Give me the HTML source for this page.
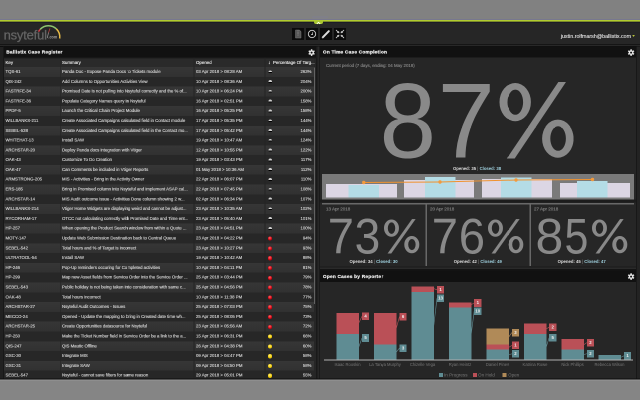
<!DOCTYPE html>
<html><head><meta charset="utf-8">
<style>
*{margin:0;padding:0;box-sizing:border-box}
html,body{width:640px;height:400px;overflow:hidden;background:#848484;font-family:"Liberation Sans",sans-serif}
.a{position:absolute}
#top{left:0;top:0;width:640px;height:19px;background:#818181}
#l1{left:0;top:19px;width:640px;height:1px;background:#77778f}
#l2{left:0;top:20px;width:640px;height:1px;background:#b0cc30}
#l3{left:0;top:21px;width:640px;height:1px;background:#7c8a2a}
#l4{left:0;top:22px;width:640px;height:1px;background:#1b1b27}
#hdr{left:0;top:23px;width:640px;height:21px;background:#262626}
#main{left:0;top:44px;width:640px;height:336px;background:#212121}
#tab{left:314px;top:21px;width:9px;height:3px;background:#a9c52f;border-radius:0 0 2px 2px}
.logo{left:3.6px;top:28.2px;font-size:13px;color:#646464;letter-spacing:-0.2px;line-height:14px;-webkit-text-stroke:0.25px #646464}
.btn{top:28px;width:12px;height:12px;background:#0b0b0b}
.email{right:9px;top:32.7px;font-size:5.3px;color:#e4e4e4;line-height:7px;-webkit-text-stroke:0.1px #e4e4e4}
.caret{left:632.3px;top:35.1px;width:0;height:0;border-left:1.2px solid transparent;border-right:1.2px solid transparent;border-top:1.8px solid #b8c238}
.panel{background:#262626}
.ph{background:#111;height:11px}
.pt{font-weight:bold;font-size:4.8px;letter-spacing:0.2px;color:#ececec;line-height:7px;white-space:nowrap;-webkit-text-stroke:0.22px #ececec}
.gear{width:7.2px;height:7.2px}
/* table */
#tbl{left:4px;top:57.5px;width:310px;height:322px;overflow:hidden}
.thr{left:4px;top:57.5px;width:310px;height:9.5px;background:#2a2a2a;font-size:4.4px;color:#ececec;white-space:nowrap;line-height:9.5px;-webkit-text-stroke:0.12px #ececec}
.rw{position:absolute;left:4px;width:310px;height:9.79px;font-size:4.3px;color:#d6d6d6;line-height:9px;-webkit-text-stroke:0.12px #d6d6d6;white-space:nowrap}
.odd{background:linear-gradient(#363636,#313131)}
.even{background:#272727}
.rw span,.thr span{position:absolute;top:0}
.c1{left:1.5px}
.c2{left:58px}
.c3{left:192px}
.c4{right:2.5px}
.colsep{top:57.5px;width:0.8px;height:321.5px;background:#232323}
.dot{position:absolute;left:264px;top:3.1px;width:4.1px;height:4.1px;border-radius:50%}
.dot.n{top:3.3px;width:3.4px;height:2.8px;left:264.6px;border-radius:1.75px 1.75px 0.6px 0.6px;background:linear-gradient(#d0d0d0 0 62%,#000 62% 100%)}
.dot.r{background:radial-gradient(circle at 45% 35%,#ff6a6a,#d00010 60%,#900);}
.dot.y{background:radial-gradient(circle at 45% 35%,#fff080,#f0c800 60%,#b09000);}
/* big numbers */
.big{position:absolute;color:#898989;white-space:nowrap}
.oc{font-size:4.25px;font-weight:bold;color:#dcdcdc;white-space:nowrap;line-height:6px;width:80px;text-align:center}
.oc b{color:#9fd0de}
.oc i{font-style:normal;color:#888;font-weight:normal}
.sd{font-size:4.5px;color:#888;line-height:6px;white-space:nowrap;-webkit-text-stroke:0.12px #888}
.seg{position:absolute}
.seg.t{background:#5f8c93}
.seg.r{background:#ba5057}
.seg.o{background:#b08a58}
.xl{position:absolute;top:361.7px;width:40px;text-align:center;font-size:4.15px;color:#767676;line-height:6px;white-space:nowrap}
.lb{position:absolute;width:7.2px;height:7.6px;font-size:4.3px;font-weight:bold;color:#f0f0f0;text-align:center;line-height:7.6px}
.lb.t{background:#5f8c93}
.lb.r{background:#ba5057}
.lb.o{background:#b08a58}
.lg{position:absolute;top:373px;width:4px;height:4px}
.lgt{position:absolute;top:372px;font-size:4.6px;color:#777;line-height:6px;white-space:nowrap}
</style></head><body>
<div id="wrap" style="position:absolute;left:0;top:0;width:1280px;height:800px;transform:scale(0.5);transform-origin:0 0;will-change:transform"><div style="zoom:2;position:absolute;left:0;top:0;width:640px;height:400px">
<div class="a" id="top"></div>
<div class="a" id="l1"></div>
<div class="a" id="l2"></div>
<div class="a" id="l3"></div>
<div class="a" id="l4"></div>
<div class="a" id="hdr"></div>
<div class="a" id="main"></div>
<div class="a" id="tab"></div>
<div class="a" style="left:0;top:44px;width:640px;height:1px;background:#151515"></div>
<div class="a" style="left:0;top:45px;width:640px;height:1px;background:#282828"></div>
<div class="a" style="left:0;top:46px;width:640px;height:1px;background:#0e0e0e"></div>
<svg class="a" style="left:316px;top:21.3px" width="5" height="3" viewBox="0 0 5 3"><path d="M0.8 2.4 L2.5 0.8 L4.2 2.4" stroke="#fff" stroke-width="0.8" fill="none"/></svg>

<!-- logo -->
<div class="a logo">nsyteful</div>
<svg class="a" style="left:0;top:0" width="70" height="46" viewBox="0 0 70 46">
  <path d="M38.52 31.7 A11.3 11.3 0 0 1 40.16 29.38" stroke="#d83c48" stroke-width="1.5" fill="none"/>
  <path d="M40.16 29.38 A11.3 11.3 0 0 1 56.43 28.95" stroke="#8cc46e" stroke-width="1.5" fill="none"/>
  <path d="M56.43 28.95 A11.3 11.3 0 0 1 59.7 38.47" stroke="#e8bc48" stroke-width="1.5" fill="none"/>
  <path d="M50 28.4 L48.5 32.6" stroke="#b83838" stroke-width="0.8" fill="none"/>
  <path d="M48.5 32.6 L47.3 38" stroke="#9a9a9a" stroke-width="0.7" fill="none"/>
  <text x="48.4" y="38.6" font-size="4.4" font-weight="bold" fill="#a0a0a0" font-family="Liberation Sans" textLength="8.8" lengthAdjust="spacingAndGlyphs">.com</text>
</svg>
<!-- header buttons -->
<div class="a btn" style="left:292px"></div>
<div class="a btn" style="left:306px"></div>
<div class="a btn" style="left:320px"></div>
<div class="a btn" style="left:334px"></div>
<svg class="a" style="left:292px;top:28px" width="12" height="12" viewBox="0 0 12 12">
  <path d="M3.5 2 H7.5 L9 3.5 V10 H3.5 Z" fill="#555" stroke="#777" stroke-width="0.5"/>
  <path d="M6 2.5 V8" stroke="#999" stroke-width="0.8" stroke-dasharray="0.8 0.6"/>
</svg>
<svg class="a" style="left:306px;top:28px" width="12" height="12" viewBox="0 0 12 12">
  <circle cx="6" cy="6" r="3.7" stroke="#d0d0d0" stroke-width="0.9" fill="none"/>
  <path d="M6.6 4.2 V6.6 H5" stroke="#d0d0d0" stroke-width="0.7" fill="none"/>
</svg>
<svg class="a" style="left:320px;top:28px" width="12" height="12" viewBox="0 0 12 12">
  <path d="M2.8 9.3 L8.8 3.2" stroke="#dcdcdc" stroke-width="2" stroke-linecap="round"/>
  <path d="M2.2 10 L3.3 8.6" stroke="#bbb" stroke-width="1"/>
</svg>
<svg class="a" style="left:334px;top:28px" width="12" height="12" viewBox="0 0 12 12" stroke="#d4d4d4" stroke-width="0.8" fill="#d4d4d4" stroke-linecap="round">
  <path d="M2.2 2.2 L4.2 4.2"/><path d="M9.8 2.2 L7.8 4.2"/><path d="M2.2 9.8 L4.2 7.8"/><path d="M9.8 9.8 L7.8 7.8"/>
  <path d="M5 5 L3.2 4.6 L4.6 3.2 Z" stroke-width="0.4"/><path d="M7 5 L8.8 4.6 L7.4 3.2 Z" stroke-width="0.4"/>
  <path d="M5 7 L3.2 7.4 L4.6 8.8 Z" stroke-width="0.4"/><path d="M7 7 L8.8 7.4 L7.4 8.8 Z" stroke-width="0.4"/>
</svg>

<div class="a email">justin.rolfmarsh@ballistix.com</div>
<svg class="a" style="left:631px;top:34px" width="5" height="4" viewBox="631 34 5 4"><path d="M632.2 35 L634.9 35 L633.55 37 Z" fill="#b4c03a"/></svg>

<!-- left panel -->
<div class="a" style="left:3px;top:46.5px;width:1px;height:333px;background:#181818"></div>
<div class="a panel" style="left:4px;top:46.5px;width:312px;height:333px"></div>
<div class="a" style="left:316px;top:46.5px;width:1.5px;height:333px;background:#191919"></div>
<div class="a" style="left:317.5px;top:46.5px;width:1.5px;height:333px;background:#272727"></div>
<div class="a" style="left:319px;top:46.5px;width:1px;height:333px;background:#1a1a1a"></div>
<div class="a" style="left:636px;top:46.5px;width:1px;height:333px;background:#181818"></div>
<div class="a" style="left:637px;top:46.5px;width:3px;height:333px;background:#232323"></div>
<div class="a" style="left:312px;top:16px;width:16px;height:2.6px;background:#80808c;opacity:0.7;border-radius:1px"></div>
<div class="a ph" style="left:4px;top:46.5px;width:312px"></div>
<div class="a pt" style="left:6.2px;top:48.7px">Ballistix Case Register</div>
<svg class="a gear" style="left:308.05px;top:48.85px" viewBox="0 0 8 8"><g fill="#e8e8e8"><circle cx="4" cy="4" r="2.6"/><g id="tt"><rect x="3.2" y="0.3" width="1.6" height="1.6"/><rect x="3.2" y="6.1" width="1.6" height="1.6"/></g><use href="#tt" transform="rotate(60 4 4)"/><use href="#tt" transform="rotate(120 4 4)"/></g><circle cx="4" cy="4" r="1.1" fill="#111"/></svg>

<div class="a thr"><span class="c1" style="top:0.5px">Key</span><span class="c2" style="top:0.5px">Summary</span><span class="c3" style="top:0.5px">Opened</span><span style="left:264.2px;top:0.3px;font-size:4.6px;color:#fff">&#8595;</span><span style="left:269px;top:0.5px">Percentage Of Targ...</span></div>
<div class="a" style="left:4px;top:57.5px;width:312px;height:1px;background:#1c1c1c"></div>
<div class="rw odd" style="top:67.0px"><span class="c1">TQS-61</span><span class="c2">Panda Doc - Expose Panda Docs to Tickets module</span><span class="c3">03 Apr 2018 &gt; 08:28 AM</span><i class="dot n"></i><span class="c4">263%</span></div>
<div class="rw even" style="top:76.8px"><span class="c1">QIS-242</span><span class="c2">Add Columns to Opportunities Activities View</span><span class="c3">10 Apr 2018 &gt; 08:36 AM</span><i class="dot n"></i><span class="c4">204%</span></div>
<div class="rw odd" style="top:86.6px"><span class="c1">FASTRFE-34</span><span class="c2">Promised Date is not pulling into Nsyteful correctly and the % of...</span><span class="c3">10 Apr 2018 &gt; 06:24 PM</span><i class="dot n"></i><span class="c4">200%</span></div>
<div class="rw even" style="top:96.4px"><span class="c1">FASTRFE-36</span><span class="c2">Populate Category Names query in Nsyteful</span><span class="c3">16 Apr 2018 &gt; 02:51 PM</span><i class="dot n"></i><span class="c4">158%</span></div>
<div class="rw odd" style="top:106.2px"><span class="c1">PPDF-5</span><span class="c2">Launch the Critical Chain Project Module</span><span class="c3">16 Apr 2018 &gt; 05:25 PM</span><i class="dot n"></i><span class="c4">158%</span></div>
<div class="rw even" style="top:116.0px"><span class="c1">WILLBANKS-211</span><span class="c2">Create Associated Campaigns calculated field in Contact module</span><span class="c3">17 Apr 2018 &gt; 05:35 PM</span><i class="dot n"></i><span class="c4">144%</span></div>
<div class="rw odd" style="top:125.8px"><span class="c1">SEBEL-538</span><span class="c2">Create Associated Campaigns calculated field in the Contact mo...</span><span class="c3">17 Apr 2018 &gt; 05:42 PM</span><i class="dot n"></i><span class="c4">144%</span></div>
<div class="rw even" style="top:135.6px"><span class="c1">WHITEHAT-13</span><span class="c2">Install SAW</span><span class="c3">19 Apr 2018 &gt; 10:47 AM</span><i class="dot n"></i><span class="c4">124%</span></div>
<div class="rw odd" style="top:145.4px"><span class="c1">ARCHSTAR-20</span><span class="c2">Deploy Panda docs integration with Vtiger</span><span class="c3">12 Apr 2018 &gt; 10:55 PM</span><i class="dot n"></i><span class="c4">122%</span></div>
<div class="rw even" style="top:155.2px"><span class="c1">OAK-43</span><span class="c2">Customize To Do Creation</span><span class="c3">19 Apr 2018 &gt; 03:43 PM</span><i class="dot n"></i><span class="c4">117%</span></div>
<div class="rw odd" style="top:164.9px"><span class="c1">OAK-47</span><span class="c2">Can Comments be included in Vtiger Reports</span><span class="c3">01 May 2018 &gt; 10:36 AM</span><i class="dot n"></i><span class="c4">112%</span></div>
<div class="rw even" style="top:174.7px"><span class="c1">ARMSTRONG-205</span><span class="c2">MIS - Activities - Bring in the Activity Owner</span><span class="c3">22 Apr 2018 &gt; 06:07 PM</span><i class="dot n"></i><span class="c4">110%</span></div>
<div class="rw odd" style="top:184.5px"><span class="c1">ERS-185</span><span class="c2">Bring in Promised column into Nsyteful and implement ASAP cal...</span><span class="c3">22 Apr 2018 &gt; 07:45 PM</span><i class="dot n"></i><span class="c4">108%</span></div>
<div class="rw even" style="top:194.3px"><span class="c1">ARCHSTAR-14</span><span class="c2">MIS Audit outcome issue - Activities Done column showing 2 w...</span><span class="c3">02 Apr 2018 &gt; 06:34 PM</span><i class="dot n"></i><span class="c4">107%</span></div>
<div class="rw odd" style="top:204.1px"><span class="c1">WILLBANKS-214</span><span class="c2">Vtiger Home Widgets are displaying weird and cannot be adjust...</span><span class="c3">23 Apr 2018 &gt; 10:35 AM</span><i class="dot n"></i><span class="c4">102%</span></div>
<div class="rw even" style="top:213.9px"><span class="c1">RYCORHAM-17</span><span class="c2">OTCC not calculating correctly with Promised Date and Time ent...</span><span class="c3">23 Apr 2018 &gt; 05:40 AM</span><i class="dot n"></i><span class="c4">101%</span></div>
<div class="rw odd" style="top:223.7px"><span class="c1">HP-257</span><span class="c2">When opening the Product Search window from within a Quote ...</span><span class="c3">23 Apr 2018 &gt; 04:51 PM</span><i class="dot n"></i><span class="c4">100%</span></div>
<div class="rw even" style="top:233.5px"><span class="c1">MOTY-147</span><span class="c2">Update Web Submission Destination back to Central Queue</span><span class="c3">23 Apr 2018 &gt; 04:22 PM</span><i class="dot r"></i><span class="c4">94%</span></div>
<div class="rw odd" style="top:243.3px"><span class="c1">SEBEL-542</span><span class="c2">Total hours and % of Target is incorrect</span><span class="c3">23 Apr 2018 &gt; 10:27 PM</span><i class="dot r"></i><span class="c4">93%</span></div>
<div class="rw even" style="top:253.1px"><span class="c1">ULTRATOOL-54</span><span class="c2">Install SAW</span><span class="c3">19 Apr 2018 &gt; 10:42 AM</span><i class="dot r"></i><span class="c4">88%</span></div>
<div class="rw odd" style="top:262.9px"><span class="c1">HP-246</span><span class="c2">Pop-Up reminders occuring for Completed activities</span><span class="c3">10 Apr 2018 &gt; 04:11 PM</span><i class="dot r"></i><span class="c4">81%</span></div>
<div class="rw even" style="top:272.7px"><span class="c1">HP-299</span><span class="c2">Map new Asset fields from Service Order into the Service Order ...</span><span class="c3">25 Apr 2018 &gt; 03:44 PM</span><i class="dot r"></i><span class="c4">79%</span></div>
<div class="rw odd" style="top:282.5px"><span class="c1">SEBEL-543</span><span class="c2">Public holiday is not being taken into consideration with same c...</span><span class="c3">25 Apr 2018 &gt; 04:56 PM</span><i class="dot r"></i><span class="c4">78%</span></div>
<div class="rw even" style="top:292.3px"><span class="c1">OAK-48</span><span class="c2">Total hours incorrect</span><span class="c3">10 Apr 2018 &gt; 11:38 PM</span><i class="dot r"></i><span class="c4">77%</span></div>
<div class="rw odd" style="top:302.1px"><span class="c1">ARCHSTAR-27</span><span class="c2">Nsyteful Audit Outcomes - Issues</span><span class="c3">25 Apr 2018 &gt; 07:03 PM</span><i class="dot r"></i><span class="c4">75%</span></div>
<div class="rw even" style="top:311.9px"><span class="c1">MECCO-24</span><span class="c2">Opened - Update the mapping to bring in Created date time wh...</span><span class="c3">25 Apr 2018 &gt; 08:05 PM</span><i class="dot r"></i><span class="c4">73%</span></div>
<div class="rw odd" style="top:321.7px"><span class="c1">ARCHSTAR-25</span><span class="c2">Create Opportunities datasource for Nsyteful</span><span class="c3">23 Apr 2018 &gt; 05:56 AM</span><i class="dot r"></i><span class="c4">72%</span></div>
<div class="rw even" style="top:331.5px"><span class="c1">HP-250</span><span class="c2">Make the Ticket Number field in Service Order be a link to the a...</span><span class="c3">15 Apr 2018 &gt; 06:31 PM</span><i class="dot y"></i><span class="c4">66%</span></div>
<div class="rw odd" style="top:341.3px"><span class="c1">QIS-247</span><span class="c2">QIS Mautic Offline</span><span class="c3">26 Apr 2018 &gt; 04:38 PM</span><i class="dot y"></i><span class="c4">60%</span></div>
<div class="rw even" style="top:351.1px"><span class="c1">GSC-30</span><span class="c2">Integrate MIS</span><span class="c3">09 Apr 2018 &gt; 04:47 PM</span><i class="dot y"></i><span class="c4">58%</span></div>
<div class="rw odd" style="top:360.9px"><span class="c1">GSC-31</span><span class="c2">Integrate SAW</span><span class="c3">09 Apr 2018 &gt; 04:50 PM</span><i class="dot y"></i><span class="c4">58%</span></div>
<div class="rw even" style="top:370.6px"><span class="c1">SEBEL-547</span><span class="c2">Nsyteful - cannot save filters for same reason</span><span class="c3">29 Apr 2018 &gt; 05:01 PM</span><i class="dot y"></i><span class="c4">55%</span></div>
<div class="a colsep" style="left:60.4px"></div>
<div class="a colsep" style="left:193.6px"></div>
<div class="a colsep" style="left:264.6px"></div>
<div class="a" style="left:314px;top:67.5px;width:1.1px;height:236.5px;background:#626262"></div>

<!-- right panel -->
<div class="a panel" style="left:320px;top:46.5px;width:316px;height:220px"></div>
<div class="a ph" style="left:320px;top:46.5px;width:316px"></div>
<div class="a pt" style="left:322.9px;top:48.7px">On Time Case Completion</div>
<svg class="a gear" style="left:627.4px;top:48.8px" viewBox="0 0 8 8"><g fill="#e8e8e8"><circle cx="4" cy="4" r="2.6"/><use href="#tt"/><use href="#tt" transform="rotate(60 4 4)"/><use href="#tt" transform="rotate(120 4 4)"/></g><circle cx="4" cy="4" r="1.1" fill="#111"/></svg>
<div class="a sd" style="left:326px;top:62.5px;font-size:4.4px">Current period (7 days, ending: 04 May 2018)</div>
<div class="a oc" style="left:437px;top:165.3px">Opened: 35 <i>|</i> <b>Closed: 38</b></div>

<div class="big" style="left:377.96px;top:66.92px;font-size:107px;line-height:107px;transform:scaleX(0.951);transform-origin:29.69px 50%">8</div>
<div class="big" style="left:436.55px;top:66.92px;font-size:107px;line-height:107px;transform:scaleX(0.963);transform-origin:29.75px 50%">7</div>
<svg class="a" style="left:499.6px;top:81.8px" width="74.10" height="76.50" viewBox="0 0 74.1 76.5" preserveAspectRatio="none"><path d="M0.00 20.10a15.70 19.10 0 1 0 31.40 0a15.70 19.10 0 1 0 -31.40 0ZM8.00 20.20a7.80 12.60 0 1 0 15.60 0a7.80 12.60 0 1 0 -15.60 0ZM42.60 56.65a15.75 19.05 0 1 0 31.50 0a15.75 19.05 0 1 0 -31.50 0ZM50.80 56.50a7.80 12.30 0 1 0 15.60 0a7.80 12.30 0 1 0 -15.60 0Z" fill="#898989" fill-rule="evenodd"/><path d="M59.2 0.2L65.9 0.2L14.7 76.5L7.8 76.5Z" fill="#898989" stroke="#898989" stroke-width="0.8" stroke-linejoin="round"/></svg>
<div class="big" style="left:327.20px;top:211.18px;font-size:50px;line-height:50px;transform:scaleX(0.943);transform-origin:13.90px 50%">7</div>
<div class="big" style="left:353.67px;top:211.18px;font-size:50px;line-height:50px;transform:scaleX(0.922);transform-origin:13.73px 50%">3</div>
<svg class="a" style="left:384px;top:219px" width="35.30" height="34.60" viewBox="0 0 74.1 76.5" preserveAspectRatio="none"><path d="M0.00 20.10a15.70 19.10 0 1 0 31.40 0a15.70 19.10 0 1 0 -31.40 0ZM8.00 20.20a7.80 12.60 0 1 0 15.60 0a7.80 12.60 0 1 0 -15.60 0ZM42.60 56.65a15.75 19.05 0 1 0 31.50 0a15.75 19.05 0 1 0 -31.50 0ZM50.80 56.50a7.80 12.30 0 1 0 15.60 0a7.80 12.30 0 1 0 -15.60 0Z" fill="#898989" fill-rule="evenodd"/><path d="M59.2 0.2L65.9 0.2L14.7 76.5L7.8 76.5Z" fill="#898989" stroke="#898989" stroke-width="0.8" stroke-linejoin="round"/></svg>
<div class="big" style="left:431.20px;top:211.18px;font-size:50px;line-height:50px;transform:scaleX(0.943);transform-origin:13.90px 50%">7</div>
<div class="big" style="left:458.07px;top:211.18px;font-size:50px;line-height:50px;transform:scaleX(0.946);transform-origin:14.05px 50%">6</div>
<svg class="a" style="left:488px;top:219px" width="35.30" height="34.60" viewBox="0 0 74.1 76.5" preserveAspectRatio="none"><path d="M0.00 20.10a15.70 19.10 0 1 0 31.40 0a15.70 19.10 0 1 0 -31.40 0ZM8.00 20.20a7.80 12.60 0 1 0 15.60 0a7.80 12.60 0 1 0 -15.60 0ZM42.60 56.65a15.75 19.05 0 1 0 31.50 0a15.75 19.05 0 1 0 -31.50 0ZM50.80 56.50a7.80 12.30 0 1 0 15.60 0a7.80 12.30 0 1 0 -15.60 0Z" fill="#898989" fill-rule="evenodd"/><path d="M59.2 0.2L65.9 0.2L14.7 76.5L7.8 76.5Z" fill="#898989" stroke="#898989" stroke-width="0.8" stroke-linejoin="round"/></svg>
<div class="big" style="left:535.72px;top:211.18px;font-size:50px;line-height:50px;transform:scaleX(0.998);transform-origin:13.88px 50%">8</div>
<div class="big" style="left:562.32px;top:211.18px;font-size:50px;line-height:50px;transform:scaleX(0.858);transform-origin:13.83px 50%">5</div>
<svg class="a" style="left:592px;top:219px" width="35.30" height="34.60" viewBox="0 0 74.1 76.5" preserveAspectRatio="none"><path d="M0.00 20.10a15.70 19.10 0 1 0 31.40 0a15.70 19.10 0 1 0 -31.40 0ZM8.00 20.20a7.80 12.60 0 1 0 15.60 0a7.80 12.60 0 1 0 -15.60 0ZM42.60 56.65a15.75 19.05 0 1 0 31.50 0a15.75 19.05 0 1 0 -31.50 0ZM50.80 56.50a7.80 12.30 0 1 0 15.60 0a7.80 12.30 0 1 0 -15.60 0Z" fill="#898989" fill-rule="evenodd"/><path d="M59.2 0.2L65.9 0.2L14.7 76.5L7.8 76.5Z" fill="#898989" stroke="#898989" stroke-width="0.8" stroke-linejoin="round"/></svg>
<!-- mini chart -->
<div class="a" style="left:322px;top:174px;width:312px;height:25.7px;background:#7a7a7a"></div>
<div class="a" style="left:326px;top:183.75px;width:71px;height:13.5px;background:#dcd6e4"></div>
<div class="a" style="left:348.5px;top:185px;width:30.5px;height:12.25px;background:#b4dce6"></div>
<div class="a" style="left:404px;top:180px;width:70px;height:17.25px;background:#dcd6e4"></div>
<div class="a" style="left:425px;top:177px;width:30.5px;height:20.25px;background:#b4dce6"></div>
<div class="a" style="left:481.75px;top:178.75px;width:70px;height:18.5px;background:#dcd6e4"></div>
<div class="a" style="left:501px;top:177.5px;width:30.5px;height:19.75px;background:#b4dce6"></div>
<div class="a" style="left:560px;top:183px;width:70px;height:14.25px;background:#dcd6e4"></div>
<div class="a" style="left:577px;top:181px;width:30.5px;height:16.25px;background:#b4dce6"></div>
<svg class="a" style="left:0;top:0" width="640" height="400" viewBox="0 0 640 400">
  <polyline points="363.75,182.5 440,182 516,180 592.5,179.5" stroke="#f0922e" stroke-width="1" fill="none"/>
  <g fill="#f29a3c"><circle cx="363.75" cy="182.5" r="1.7"/><circle cx="440" cy="182" r="1.7"/><circle cx="516" cy="180" r="1.7"/><circle cx="592.5" cy="179.5" r="1.7"/></g>
</svg>
<div class="a" style="left:320px;top:199.7px;width:316px;height:3px;background:#1c1c1c"></div>
<div class="a" style="left:322px;top:202.8px;width:312px;height:1.8px;background:#686868"></div>
<div class="a" style="left:425.5px;top:203px;width:1.6px;height:63px;background:#686868"></div>
<div class="a" style="left:529.3px;top:203px;width:1.6px;height:63px;background:#686868"></div>

<div class="a sd" style="left:326px;top:206px">13 Apr 2018</div>
<div class="a oc" style="left:333.5px;top:258.5px">Opened: 34 <i>|</i> <b>Closed: 30</b></div>

<div class="a sd" style="left:430px;top:206px">20 Apr 2018</div>
<div class="a oc" style="left:437.8px;top:258.5px">Opened: 42 <i>|</i> <b>Closed: 49</b></div>

<div class="a sd" style="left:534px;top:206px">27 Apr 2018</div>
<div class="a oc" style="left:541.7px;top:258.5px">Opened: 45 <i>|</i> <b>Closed: 47</b></div>

<!-- open cases by reporter -->
<div class="a" style="left:320px;top:266.5px;width:316px;height:1px;background:#1a1a1a"></div>
<div class="a" style="left:320px;top:267.5px;width:316px;height:1.5px;background:#2a2a2a"></div>
<div class="a" style="left:320px;top:269px;width:316px;height:1.5px;background:#141414"></div>
<div class="a panel" style="left:320px;top:270.5px;width:316px;height:109px"></div>
<div class="a ph" style="left:320px;top:270.5px;width:316px;height:11.5px"></div>
<div class="a pt" style="left:322.9px;top:273.1px">Open Cases by Reporter</div>
<svg class="a gear" style="left:627.5px;top:272.95px" viewBox="0 0 8 8"><g fill="#e8e8e8"><circle cx="4" cy="4" r="2.6"/><use href="#tt"/><use href="#tt" transform="rotate(60 4 4)"/><use href="#tt" transform="rotate(120 4 4)"/></g><circle cx="4" cy="4" r="1.1" fill="#111"/></svg>
<div class="seg t" style="left:336.25px;top:333.75px;width:22.5px;height:26.25px"></div>
<div class="seg r" style="left:336.25px;top:312.75px;width:22.5px;height:21.00px"></div>
<div class="xl" style="left:327.50px">Isaac Rooskin</div>
<div class="seg t" style="left:373.75px;top:344.25px;width:22.5px;height:15.75px"></div>
<div class="seg r" style="left:373.75px;top:312.75px;width:22.5px;height:31.50px"></div>
<div class="xl" style="left:365.00px">La Tanya Murphy</div>
<div class="seg t" style="left:411.25px;top:291.75px;width:22.5px;height:68.25px"></div>
<div class="seg r" style="left:411.25px;top:286.50px;width:22.5px;height:5.25px"></div>
<div class="xl" style="left:402.50px">Chizelle Vega</div>
<div class="seg t" style="left:448.75px;top:307.50px;width:22.5px;height:52.50px"></div>
<div class="seg r" style="left:448.75px;top:302.25px;width:22.5px;height:5.25px"></div>
<div class="xl" style="left:440.00px">Ryan Heintz</div>
<div class="seg t" style="left:486.25px;top:349.50px;width:22.5px;height:10.50px"></div>
<div class="seg r" style="left:486.25px;top:344.25px;width:22.5px;height:5.25px"></div>
<div class="seg o" style="left:486.25px;top:328.50px;width:22.5px;height:15.75px"></div>
<div class="xl" style="left:477.50px">Daniel Pines</div>
<div class="seg t" style="left:523.75px;top:333.75px;width:22.5px;height:26.25px"></div>
<div class="seg r" style="left:523.75px;top:323.25px;width:22.5px;height:10.50px"></div>
<div class="xl" style="left:515.00px">Katrina Rowe</div>
<div class="seg t" style="left:561.25px;top:349.50px;width:22.5px;height:10.50px"></div>
<div class="seg r" style="left:561.25px;top:339.00px;width:22.5px;height:10.50px"></div>
<div class="xl" style="left:552.50px">Nick Phillips</div>
<div class="seg t" style="left:598.25px;top:354.75px;width:22.5px;height:5.25px"></div>
<div class="xl" style="left:589.50px">Rebecca Wilson</div>
<div class="a" style="left:324px;top:359.6px;width:309px;height:0.9px;background:#b0b0b0"></div>
<svg class="a" style="left:0;top:0" width="640" height="400"><line x1="358.75" y1="323" x2="362" y2="316.30" stroke="#ba5057" stroke-width="0.6"/><line x1="358.75" y1="347" x2="362" y2="338.00" stroke="#5f8c93" stroke-width="0.6"/><line x1="396.25" y1="328.25" x2="399.5" y2="316.60" stroke="#ba5057" stroke-width="0.6"/><line x1="396.25" y1="352.1" x2="399.5" y2="348.10" stroke="#5f8c93" stroke-width="0.6"/><line x1="433.75" y1="288.6" x2="437" y2="289.80" stroke="#ba5057" stroke-width="0.6"/><line x1="433.75" y1="325.6" x2="437" y2="298.30" stroke="#5f8c93" stroke-width="0.6"/><line x1="471.25" y1="304.6" x2="474.2" y2="303.00" stroke="#ba5057" stroke-width="0.6"/><line x1="471.25" y1="333.75" x2="474.2" y2="311.20" stroke="#5f8c93" stroke-width="0.6"/><line x1="508.75" y1="336.9" x2="511.9" y2="332.55" stroke="#b08a58" stroke-width="0.6"/><line x1="508.75" y1="347.4" x2="511.9" y2="345.40" stroke="#ba5057" stroke-width="0.6"/><line x1="508.75" y1="354.75" x2="511.9" y2="353.80" stroke="#5f8c93" stroke-width="0.6"/><line x1="546.25" y1="328.75" x2="549.1" y2="327.30" stroke="#ba5057" stroke-width="0.6"/><line x1="546.25" y1="346.9" x2="549.1" y2="337.80" stroke="#5f8c93" stroke-width="0.6"/><line x1="583.75" y1="344.75" x2="586.8" y2="342.60" stroke="#ba5057" stroke-width="0.6"/><line x1="583.75" y1="354.75" x2="586.8" y2="353.60" stroke="#5f8c93" stroke-width="0.6"/><line x1="620.75" y1="357.4" x2="624" y2="355.80" stroke="#5f8c93" stroke-width="0.6"/></svg>
<div class="lb r" style="left:362px;top:312.5px">4</div>
<div class="lb t" style="left:362px;top:334.2px">5</div>
<div class="lb r" style="left:399.5px;top:312.8px">6</div>
<div class="lb t" style="left:399.5px;top:344.3px">3</div>
<div class="lb r" style="left:437px;top:286px">1</div>
<div class="lb t" style="left:437px;top:294.5px">13</div>
<div class="lb r" style="left:474.2px;top:299.2px">1</div>
<div class="lb t" style="left:474.2px;top:307.4px">10</div>
<div class="lb o" style="left:511.9px;top:328.75px">3</div>
<div class="lb r" style="left:511.9px;top:341.6px">1</div>
<div class="lb t" style="left:511.9px;top:350px">2</div>
<div class="lb r" style="left:549.1px;top:323.5px">2</div>
<div class="lb t" style="left:549.1px;top:334px">5</div>
<div class="lb r" style="left:586.8px;top:338.8px">2</div>
<div class="lb t" style="left:586.8px;top:349.8px">2</div>
<div class="lb t" style="left:624px;top:352px">1</div>
<div class="lg" style="left:439px;background:#5f8c93"></div><div class="lgt" style="left:444px">In Progress</div>
<div class="lg" style="left:473px;background:#ba5057"></div><div class="lgt" style="left:478px">On Hold</div>
<div class="lg" style="left:502.5px;background:#b08a58"></div><div class="lgt" style="left:508px">Open</div>

<div class="a" style="left:0;top:378.6px;width:640px;height:1px;background:#0c0c0c"></div>
<div class="a" style="left:0;top:379.6px;width:640px;height:1px;background:#979797"></div>
<div class="a" style="left:0;top:380.6px;width:640px;height:20px;background:#858585"></div>
</div></div>
</body></html>
